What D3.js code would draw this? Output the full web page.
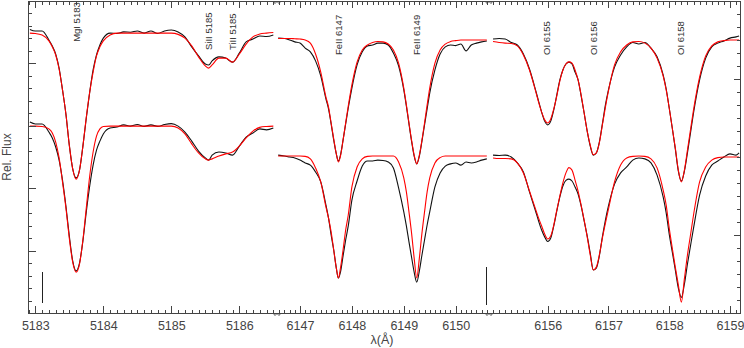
<!DOCTYPE html>
<html><head><meta charset="utf-8">
<script src="https://cdn.jsdelivr.net/npm/d3@7"></script>
<style>html,body{margin:0;padding:0;background:#fff;} svg{display:block;}</style>
</head><body><svg id="c" width="744" height="348"></svg>
<script>
// ---------------- DATA ----------------
// Panel 1 : Mg I 5183 region
const p1Wave = [5182.92,5183.00,5183.10,5183.20,5183.25,5183.30,5183.35,5183.40,5183.45,5183.50,5183.55,5183.60,5183.65,5183.70,5183.75,5183.80,5183.85,5183.90,5183.95,5184.00,
 5184.10,5184.20,5184.30,5184.40,5184.50,5184.60,5184.70,5184.80,5184.90,5185.00,
 5185.10,5185.20,5185.30,5185.40,5185.50,5185.55,5185.60,5185.70,5185.80,5185.90,
 5186.00,5186.10,5186.20,5186.30,5186.40,5186.50];
const p1ModelTop = [0.897,0.896,0.891,0.872,0.853,0.827,0.782,0.715,0.638,0.538,0.462,0.429,0.458,0.535,0.628,0.708,0.772,0.824,0.853,0.872,
 0.891,0.897,0.897,0.897,0.897,0.897,0.897,0.897,0.897,0.897,
 0.893,0.881,0.856,0.821,0.792,0.785,0.795,0.817,0.817,0.804,
 0.830,0.862,0.885,0.894,0.897,0.899];
const p1ObsTop = [0.909,0.904,0.904,0.875,0.856,0.830,0.785,0.715,0.638,0.538,0.462,0.433,0.458,0.535,0.625,0.708,0.779,0.827,0.859,0.881,
 0.897,0.896,0.901,0.900,0.904,0.897,0.904,0.896,0.904,0.907,
 0.901,0.885,0.853,0.824,0.798,0.795,0.808,0.821,0.817,0.804,
 0.833,0.869,0.878,0.888,0.886,0.891];
const p1ModelBot = [0.599,0.599,0.598,0.590,0.577,0.548,0.497,0.420,0.337,0.240,0.163,0.131,0.157,0.234,0.337,0.439,0.516,0.567,0.590,0.598,
 0.599,0.599,0.599,0.599,0.599,0.599,0.599,0.599,0.599,0.599,
 0.593,0.574,0.542,0.513,0.494,0.490,0.494,0.503,0.510,0.516,
 0.535,0.561,0.583,0.595,0.598,0.599];
const p1ObsBot = [0.612,0.606,0.606,0.580,0.561,0.532,0.490,0.426,0.343,0.247,0.167,0.135,0.160,0.231,0.324,0.407,0.474,0.522,0.551,0.574,
 0.593,0.596,0.603,0.599,0.604,0.598,0.603,0.598,0.604,0.607,
 0.599,0.580,0.551,0.519,0.497,0.490,0.506,0.516,0.513,0.506,
 0.535,0.564,0.577,0.590,0.587,0.593];

// Panel 2 : Fe II 6147 / 6149
const p2Wave = [6146.58,6146.70,6146.80,6146.90,6147.00,6147.10,6147.20,6147.30,6147.40,6147.50,
 6147.55,6147.60,6147.65,6147.70,6147.74,6147.78,6147.83,6147.88,6147.93,
 6148.00,6148.10,6148.20,6148.30,6148.40,6148.50,6148.60,6148.70,6148.80,6148.90,
 6149.00,6149.05,6149.10,6149.15,6149.20,6149.25,6149.30,6149.35,6149.40,6149.45,6149.50,
 6149.60,6149.70,6149.80,6149.90,
 6150.00,6150.10,6150.20,6150.30,6150.40,6150.50,6150.60];
const p2ModelTop = [0.880,0.880,0.880,0.879,0.878,0.875,0.865,0.830,0.772,0.692,
 0.660,0.609,0.558,0.510,0.484,0.503,0.554,0.609,0.663,
 0.731,0.804,0.843,0.859,0.867,0.870,0.869,0.862,0.843,0.801,
 0.721,0.667,0.609,0.554,0.506,0.478,0.506,0.554,0.609,0.667,0.721,
 0.801,0.843,0.862,0.870,
 0.873,0.875,0.875,0.875,0.875,0.875,0.875];
const p2ObsTop = [0.881,0.880,0.875,0.869,0.865,0.849,0.837,0.808,0.760,0.686,
 0.654,0.606,0.554,0.510,0.487,0.506,0.554,0.606,0.657,
 0.721,0.795,0.837,0.856,0.859,0.865,0.865,0.859,0.833,0.792,
 0.715,0.663,0.606,0.551,0.503,0.478,0.503,0.551,0.603,0.654,0.705,
 0.779,0.830,0.853,0.859,
 0.857,0.862,0.840,0.859,0.865,0.869,0.872];
const p2ModelBot = [0.503,0.503,0.503,0.503,0.503,0.502,0.494,0.465,0.420,0.340,
 0.304,0.260,0.202,0.144,0.112,0.144,0.202,0.266,0.314,
 0.404,0.468,0.494,0.502,0.503,0.503,0.503,0.503,0.503,0.484,
 0.433,0.388,0.324,0.256,0.176,0.112,0.176,0.256,0.324,0.388,0.433,
 0.481,0.498,0.503,0.503,
 0.503,0.503,0.503,0.503,0.503,0.503,0.503];
const p2ObsBot = [0.506,0.503,0.500,0.497,0.490,0.481,0.474,0.452,0.420,0.346,
 0.304,0.250,0.202,0.144,0.112,0.131,0.183,0.234,0.279,
 0.362,0.423,0.471,0.487,0.487,0.490,0.489,0.484,0.465,0.401,
 0.324,0.279,0.228,0.179,0.131,0.099,0.135,0.186,0.234,0.282,0.324,
 0.404,0.449,0.471,0.478,
 0.481,0.474,0.484,0.481,0.484,0.490,0.494];

// Panel 3 : O I triplet 6156-6158
const p3Wave = [6155.10,6155.20,6155.30,6155.40,6155.50,6155.60,6155.70,6155.80,6155.85,6155.90,6155.95,
 6156.00,6156.05,6156.10,6156.15,6156.20,6156.25,6156.30,6156.35,6156.40,6156.45,
 6156.50,6156.55,6156.60,6156.65,6156.70,6156.75,6156.80,6156.85,6156.90,6156.95,
 6157.00,6157.10,6157.20,6157.30,6157.40,6157.50,6157.60,6157.70,6157.80,6157.90,
 6157.95,6158.00,6158.05,6158.10,6158.15,6158.20,6158.25,6158.30,6158.35,6158.40,
 6158.50,6158.60,6158.70,6158.80,6158.90,6159.00,6159.10,6159.15];
const p3ModelTop = [0.870,0.867,0.865,0.864,0.856,0.827,0.779,0.712,0.676,0.644,0.619,
 0.609,0.622,0.654,0.696,0.744,0.779,0.798,0.805,0.801,0.779,
 0.747,0.699,0.641,0.583,0.538,0.507,0.513,0.545,0.603,0.660,
 0.712,0.795,0.837,0.859,0.869,0.870,0.865,0.849,0.817,0.760,
 0.715,0.657,0.593,0.529,0.458,0.420,0.458,0.522,0.587,0.651,
 0.756,0.824,0.856,0.869,0.873,0.875,0.875,0.875];
const p3ObsTop = [0.878,0.880,0.878,0.867,0.859,0.830,0.782,0.715,0.679,0.644,0.615,
 0.603,0.615,0.651,0.699,0.747,0.779,0.798,0.804,0.798,0.772,
 0.747,0.696,0.641,0.583,0.535,0.506,0.513,0.548,0.606,0.667,
 0.715,0.788,0.827,0.853,0.867,0.862,0.867,0.849,0.821,0.763,
 0.718,0.657,0.593,0.526,0.455,0.423,0.455,0.513,0.577,0.641,
 0.747,0.817,0.853,0.865,0.872,0.881,0.885,0.888];
const p3ModelBot = [0.497,0.495,0.495,0.494,0.481,0.449,0.391,0.333,0.304,0.279,0.253,
 0.237,0.247,0.282,0.330,0.375,0.417,0.449,0.466,0.458,0.426,
 0.391,0.346,0.298,0.244,0.186,0.138,0.147,0.186,0.240,0.288,
 0.333,0.420,0.474,0.497,0.502,0.503,0.502,0.494,0.465,0.394,
 0.346,0.272,0.208,0.147,0.090,0.035,0.110,0.186,0.250,0.314,
 0.420,0.468,0.490,0.498,0.500,0.500,0.500,0.500];
const p3ObsBot = [0.506,0.505,0.506,0.500,0.481,0.452,0.388,0.327,0.295,0.266,0.244,
 0.229,0.240,0.279,0.327,0.372,0.407,0.425,0.429,0.423,0.404,
 0.381,0.343,0.295,0.247,0.192,0.138,0.144,0.183,0.244,0.298,
 0.343,0.413,0.449,0.468,0.490,0.497,0.494,0.481,0.442,0.372,
 0.321,0.253,0.196,0.138,0.080,0.050,0.093,0.157,0.215,0.272,
 0.378,0.439,0.474,0.487,0.500,0.510,0.506,0.513];

// Panel wavelength windows and tick labels
const panelDomains = [[5182.90, 5186.554], [6146.557, 6150.642], [6155.034, 6159.173]];
const majorTicks = [[5183,5184,5185,5186],[6147,6148,6149,6150],[6156,6157,6158,6159]];

// Line identifications
const lineLabels = ["MgI 5183","SiII 5185","TiII 5185","FeII 6147","FeII 6149","OI 6155","OI 6156","OI 6158"];
const linePanel  = [0,0,0,1,1,2,2,2];
const lineWave   = [5183.61,5185.55,5185.90,6147.74,6149.25,6155.98,6156.76,6158.19];
const labelBase  = [0.869,0.843,0.843,0.827,0.827,0.827,0.827,0.827];

// Flux scale bars
const barPanel = [0,1];
const barWave  = [5183.10,6150.60];
const barLow   = [0.032,0.026];
const barHigh  = [0.131,0.147];

// ---------------- LAYOUT ----------------
const FONT = "'Liberation Sans', Arial, Helvetica, sans-serif";
const frame = {l:28.5, r:740.5, t:1, b:313};
const panelEdges = [28.5, 277, 489, 740.5];
const AX = "#444";

const svg = d3.select("#c");
const y  = d3.scaleLinear().domain([0,1]).range([frame.b, frame.t]);
const yR = d3.scaleLinear().domain([0.25,1.25]).range([frame.b, frame.t]);
const xs = panelDomains.map((d,i)=>d3.scaleLinear().domain(d).range([panelEdges[i], panelEdges[i+1]]));

const panels = [
  {wave:p1Wave, obs:[p1ObsTop,p1ObsBot], model:[p1ModelTop,p1ModelBot]},
  {wave:p2Wave, obs:[p2ObsTop,p2ObsBot], model:[p2ModelTop,p2ModelBot]},
  {wave:p3Wave, obs:[p3ObsTop,p3ObsBot], model:[p3ModelTop,p3ModelBot]}
];

const defs = svg.append("defs");
panels.forEach((p,i)=>{
  defs.append("clipPath").attr("id","clip"+i).append("rect")
    .attr("x",panelEdges[i]).attr("y",frame.t)
    .attr("width",panelEdges[i+1]-panelEdges[i]).attr("height",frame.b-frame.t);
});

// spectra
panels.forEach((p,i)=>{
  const x = xs[i];
  const g = svg.append("g").attr("clip-path",`url(#clip${i})`);
  const line = d3.line().x((d,j)=>x(p.wave[j])).y(d=>y(d)).curve(d3.curveMonotoneX);
  p.obs.forEach(arr=>g.append("path").attr("d",line(arr)).attr("fill","none")
    .attr("stroke","#111").attr("stroke-width",1.1).attr("stroke-linejoin","round"));
  p.model.forEach(arr=>g.append("path").attr("d",line(arr)).attr("fill","none")
    .attr("stroke","#ff0000").attr("stroke-width",1.1).attr("stroke-linejoin","round"));
});

// frame
svg.append("rect").attr("x",frame.l).attr("y",frame.t)
  .attr("width",frame.r-frame.l).attr("height",frame.b-frame.t)
  .attr("fill","none").attr("stroke",AX).attr("stroke-width",1).attr("shape-rendering","crispEdges");

function styleAxis(g){
  g.select(".domain").remove();
  g.attr("color",AX).attr("font-family",FONT).attr("font-size",12.5);
  g.selectAll(".tick line").attr("shape-rendering","crispEdges");
}

// x axes per panel
xs.forEach((x,i)=>{
  const d = x.domain();
  const minors = d3.range(Math.ceil(d[0]*10), Math.floor(d[1]*10)+1).map(k=>k/10)
    .filter(v=>Math.abs(v-Math.round(v))>1e-6);
  svg.append("g").attr("transform",`translate(0,${frame.b})`)
    .call(d3.axisBottom(x).tickValues(majorTicks[i]).tickSize(-7).tickPadding(8.5).tickFormat(d3.format("d")))
    .call(styleAxis);
  svg.append("g").attr("transform",`translate(0,${frame.b})`)
    .call(d3.axisBottom(x).tickValues(minors).tickSize(-3.5).tickFormat(""))
    .call(styleAxis);
  svg.append("g").attr("transform",`translate(0,${frame.t})`)
    .call(d3.axisTop(x).tickValues(majorTicks[i]).tickSize(-7).tickFormat(""))
    .call(styleAxis);
  svg.append("g").attr("transform",`translate(0,${frame.t})`)
    .call(d3.axisTop(x).tickValues(minors).tickSize(-3.5).tickFormat(""))
    .call(styleAxis);
});

// left y axis
svg.append("g").attr("transform",`translate(${frame.l},0)`)
  .call(d3.axisLeft(y).tickValues([0.2,0.4,0.6,0.8]).tickSize(-7).tickFormat(""))
  .call(styleAxis);
svg.append("g").attr("transform",`translate(${frame.l},0)`)
  .call(d3.axisLeft(y).tickValues(d3.range(1,25).filter(k=>k%5!==0).map(k=>k*0.04)).tickSize(-3.5).tickFormat(""))
  .call(styleAxis);
// right y axis
svg.append("g").attr("transform",`translate(${frame.r},0)`)
  .call(d3.axisRight(yR).tickValues([0.5,1.0]).tickSize(-7).tickFormat(""))
  .call(styleAxis);
svg.append("g").attr("transform",`translate(${frame.r},0)`)
  .call(d3.axisRight(yR).tickValues(d3.range(1,24).filter(k=>k!==6&&k!==18).map(k=>0.25+k/24)).tickSize(-3.5).tickFormat(""))
  .call(styleAxis);

// panel break marks
[panelEdges[1], panelEdges[2]].forEach(xb=>{
  svg.append("path").attr("d",`M${xb-4},${frame.b} l2,2.5 l2,-2 l2,2 l2,-2.5`)
    .attr("fill","none").attr("stroke",AX).attr("stroke-width",0.9);
  svg.append("path").attr("d",`M${xb-4},${frame.t} l2,2.5 l2,-2 l2,2 l2,-2.5`)
    .attr("fill","none").attr("stroke",AX).attr("stroke-width",0.9);
});

// scale bars
barPanel.forEach((p,i)=>{
  const bx = xs[p](barWave[i]);
  svg.append("line").attr("x1",bx).attr("x2",bx).attr("y1",y(barLow[i])).attr("y2",y(barHigh[i]))
    .attr("stroke","#222").attr("stroke-width",1).attr("shape-rendering","crispEdges");
});

// line labels
svg.append("g").attr("font-family",FONT).attr("font-size",9.5).attr("fill","#333")
  .selectAll("text").data(lineLabels).join("text")
  .attr("transform",(d,i)=>`translate(${xs[linePanel[i]](lineWave[i])},${y(labelBase[i])}) rotate(-90)`)
  .attr("dy","0.35em").text(d=>d);

// axis titles
svg.append("text").attr("transform","translate(10.5,157) rotate(-90)")
  .attr("text-anchor","middle").attr("font-family",FONT).attr("font-size",12)
  .attr("fill","#444").text("Rel. Flux");
svg.append("text").attr("x",382).attr("y",344)
  .attr("text-anchor","middle").attr("font-family",FONT).attr("font-size",12.5)
  .attr("fill","#444").text("λ(Å)");
</script></body></html>
